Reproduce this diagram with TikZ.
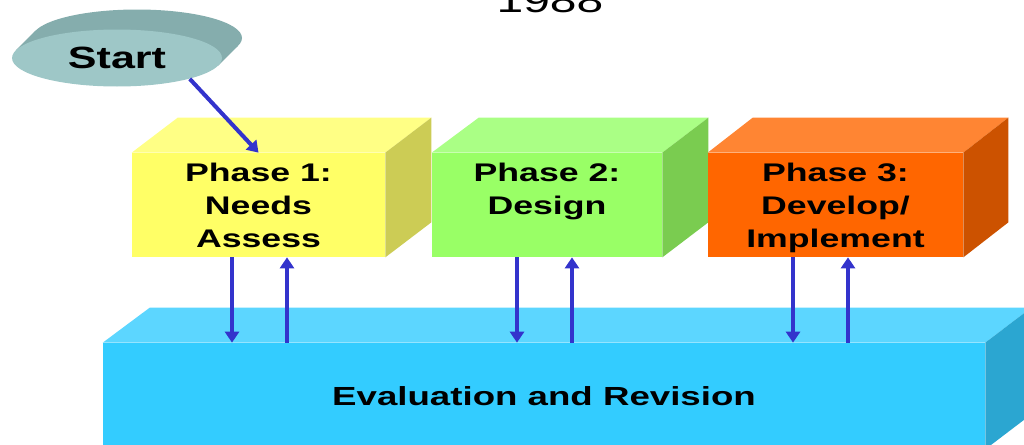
\documentclass[tikz,border=0pt]{standalone}
\usepackage{fontspec}
\setmainfont{Liberation Sans}
\newfontfamily\widefont[FakeStretch=1.4]{Liberation Sans}
\usepackage{xcolor}
\usetikzlibrary{positioning, shapes.geometric, arrows.meta}

\definecolor{discback}{HTML}{85ADAD}
\definecolor{discfront}{HTML}{9EC7C7}
\definecolor{yelfront}{HTML}{FFFF66}
\definecolor{yeltop}{HTML}{FFFF85}
\definecolor{yelside}{HTML}{CCCC55}
\definecolor{grnfront}{HTML}{99FF66}
\definecolor{grntop}{HTML}{AAFF85}
\definecolor{grnside}{HTML}{7ACC50}
\definecolor{orgfront}{HTML}{FF6600}
\definecolor{orgtop}{HTML}{FF8533}
\definecolor{orgside}{HTML}{CC5200}
\definecolor{blufront}{HTML}{33CCFF}
\definecolor{blutop}{HTML}{5CD6FF}
\definecolor{bluside}{HTML}{2BA6D1}
\definecolor{arrowblue}{HTML}{3333CC}

\tikzset{
  front/.style={rectangle, inner sep=0pt, draw=none},
  phase text/.style={font=\widefont\bfseries\fontsize{14.5}{18.8}\selectfont, align=center, inner sep=0pt},
  flow/.style={draw=arrowblue, line width=2.3pt, -{Triangle[width=0.28cm,length=0.22cm]}},
}

\begin{document}
\begin{tikzpicture}[x=0.02cm, y=-0.02cm]
        \useasboundingbox (0,0) rectangle (1024,444);

        \node (year) [anchor=base, font=\widefont\fontsize{19.5}{23}\selectfont] at (550,12) {1988};

        % start disc
        \fill[discback] (137,38) ellipse [x radius=105, y radius=28.5];
        \fill[discback] (218.3,65.5) -- (238.3,45.5) -- (35.7,30.5) -- (15.7,50.5) -- cycle;
        \node (start) [ellipse, fill=discfront, minimum width=4.2cm, minimum height=1.14cm, inner sep=0pt,
            font=\widefont\bfseries\fontsize{17.5}{20}\selectfont] at (117,58) {Start};

        % phase boxes
        \node (p1) [front, fill=yelfront, minimum width=5.06cm, minimum height=2.08cm] at (258.5,205) {};
        \fill[yeltop] (p1.north west) -- ++(46,-35) -- ([shift={(46,-35)}]p1.north east) -- (p1.north east) -- cycle;
        \fill[yelside] (p1.north east) -- ++(46,-35) -- ([shift={(46,-35)}]p1.south east) -- (p1.south east) -- cycle;
        \node (t1) [phase text, below=0.2cm of p1.north] {Phase 1:\\Needs\\Assess};

        \node (p2) [front, fill=grnfront, minimum width=4.6cm, minimum height=2.08cm] at (547,205) {};
        \fill[grntop] (p2.north west) -- ++(47,-35) -- ([shift={(46,-35)}]p2.north east) -- (p2.north east) -- cycle;
        \fill[grnside] (p2.north east) -- ++(46,-35) -- ([shift={(46,-35)}]p2.south east) -- (p2.south east) -- cycle;
        \node (t2) [phase text, below=0.2cm of p2.north] {Phase 2:\\Design};

        \node (p3) [front, fill=orgfront, minimum width=5.1cm, minimum height=2.08cm] at (835.5,205) {};
        \fill[orgtop] (p3.north west) -- ++(45,-35) -- ([shift={(45,-35)}]p3.north east) -- (p3.north east) -- cycle;
        \fill[orgside] (p3.north east) -- ++(45,-35) -- ([shift={(45,-35)}]p3.south east) -- (p3.south east) -- cycle;
        \node (t3) [phase text, below=0.2cm of p3.north] {Phase 3:\\Develop/\\Implement};

        % evaluation slab
        \node (eval) [front, fill=blufront, minimum width=17.64cm, minimum height=2.12cm,
            font=\widefont\bfseries\fontsize{14.9}{17}\selectfont] at (544,396) {Evaluation and Revision};
        \fill[blutop] (eval.north west) -- ++(47,-35) -- ([shift={(46,-35)}]eval.north east) -- (eval.north east) -- cycle;
        \fill[bluside] (eval.north east) -- ++(46,-35) -- ([shift={(46,-35)}]eval.south east) -- (eval.south east) -- cycle;

        % arrows
        \draw[flow] (start.-16) -- (p1.north);

        \coordinate (d1) at ([xshift=-0.53cm]p1.south);
        \coordinate (u1) at ([xshift=0.57cm]p1.south);
        \coordinate (d2) at ([xshift=-0.6cm]p2.south);
        \coordinate (u2) at ([xshift=0.5cm]p2.south);
        \coordinate (d3) at ([xshift=-0.85cm]p3.south);
        \coordinate (u3) at ([xshift=0.25cm]p3.south);

        \draw[flow] (d1) -- (d1 |- eval.north);
        \draw[flow] (u1 |- eval.north) -- (u1);
        \draw[flow] (d2) -- (d2 |- eval.north);
        \draw[flow] (u2 |- eval.north) -- (u2);
        \draw[flow] (d3) -- (d3 |- eval.north);
        \draw[flow] (u3 |- eval.north) -- (u3);

    \end{tikzpicture}
\end{document}
